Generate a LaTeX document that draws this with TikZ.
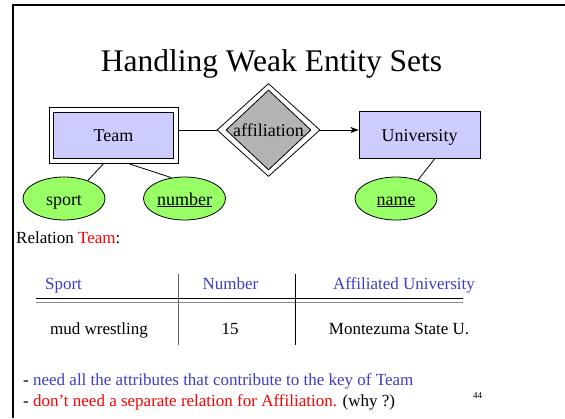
\documentclass[tikz,border=0pt]{standalone}
\usepackage{fontspec}
\setmainfont{Liberation Serif}
\usetikzlibrary{shapes.geometric,arrows.meta}
\definecolor{entfill}{RGB}{204,204,255}
\definecolor{attrfill}{RGB}{153,255,102}
\definecolor{relfill}{RGB}{179,179,179}
\definecolor{txtblue}{RGB}{60,60,204}
\definecolor{txtred}{RGB}{255,0,0}
\tikzset{
  lbl/.style={text height=13pt, text depth=0pt, font=\fontsize{18}{20}\selectfont},
  ent/.style={draw=black, line width=0.8pt, fill=entfill, rectangle, inner sep=0pt, lbl},
  entouter/.style={draw=black, line width=0.8pt, fill=white, rectangle, inner sep=0pt},
  attr/.style={draw=black, line width=0.8pt, fill=attrfill, ellipse, inner sep=0pt, minimum width=82pt, minimum height=43pt, lbl},
  conn/.style={line width=0.8pt, draw=black},
  body/.style={inner sep=0pt, anchor=base, font=\fontsize{17}{20}\selectfont},
}
\begin{document}
\begin{tikzpicture}[x=1pt,y=-1pt]
\useasboundingbox (0,0) rectangle (565,418);
% frame
\draw[line width=2pt, black] (565,5.3) -- (13,5.3) -- (13,418);
% title
\node[inner sep=0pt, anchor=base, font=\fontsize{31.5}{36}\selectfont] (title) at (271.5,71.7) {Handling Weak Entity Sets};
% ER diagram
\node[entouter, minimum width=129pt, minimum height=56pt] (teamo) at (113.5,135) {};
\node[ent, minimum width=120pt, minimum height=46pt] (team) at (113.5,135) {Team};
\node[diamond, draw=black, line width=0.8pt, fill=white, inner sep=0pt, minimum width=103pt, minimum height=93pt] (diao) at (268.5,130) {};
\node[diamond, draw=black, line width=0.8pt, fill=relfill, inner sep=0pt, minimum width=85pt, minimum height=80pt] (dia) at (268.5,130) {};
\node[inner sep=0pt, lbl] (dialabel) at (268.5,130) {affiliation};
\node[ent, minimum width=121pt, minimum height=47pt] (univ) at (419.5,134.5) {University};
\node[attr] (sport) at (64,198.5) {sport};
\node[attr] (number) at (184.5,198.5) {\underline{number}};
\node[attr] (name) at (396,198.5) {\underline{name}};
\draw[conn] (diao.west) -- (diao.west -| teamo.east);
\draw[conn, -{Stealth[length=8pt,width=6pt,inset=2pt]}] (diao.east) -- (diao.east -| univ.west);
\draw[conn] (teamo.251) -- (sport.37);
\draw[conn] (teamo.297) -- (number.122);
\draw[conn] (univ.303) -- (name.40);
% relation
\node[body, anchor=base west] (rel) at (16,243.3) {Relation \textcolor{txtred}{Team}:};
\node[body, text=txtblue] (h1) at (63.5,289) {Sport};
\node[body, text=txtblue] (h2) at (230.5,289) {Number};
\node[body, text=txtblue] (h3) at (404,289) {Affiliated University};
\node[body] (r1) at (99,334) {mud wrestling};
\node[body] (r2) at (230,334) {15};
\node[body] (r3) at (399,334) {Montezuma State U.};
\coordinate (tl) at (36,298.3);
\coordinate (tr) at (463,298.3);
\coordinate (tl2) at (36,302.3);
\coordinate (tr2) at (463,302.3);
\coordinate (v1t) at (178.3,274);
\coordinate (v1b) at (178.3,345);
\coordinate (v2t) at (295,274);
\coordinate (v2b) at (295,345);
\draw[line width=0.9pt, black] (tl) -- (tr);
\draw[line width=1.3pt, black!45] (tl2) -- (tr2);
\draw[line width=0.9pt, black!60] (v1t) -- (v1b);
\draw[line width=0.9pt, black] (v2t) -- (v2b);
% notes
\node[body, anchor=base west] (n1) at (23,385) {- \textcolor{txtblue}{need all the attributes that contribute to the key of Team}};
\node[body, anchor=base west] (n2) at (23,406.7) {- \textcolor{txtred}{don’t need a separate relation for Affiliation.} (why ?)};
\node[inner sep=0pt, anchor=base, font=\fontsize{9}{10}\selectfont] (pg) at (477.5,398.7) {44};
\end{tikzpicture}
\end{document}
